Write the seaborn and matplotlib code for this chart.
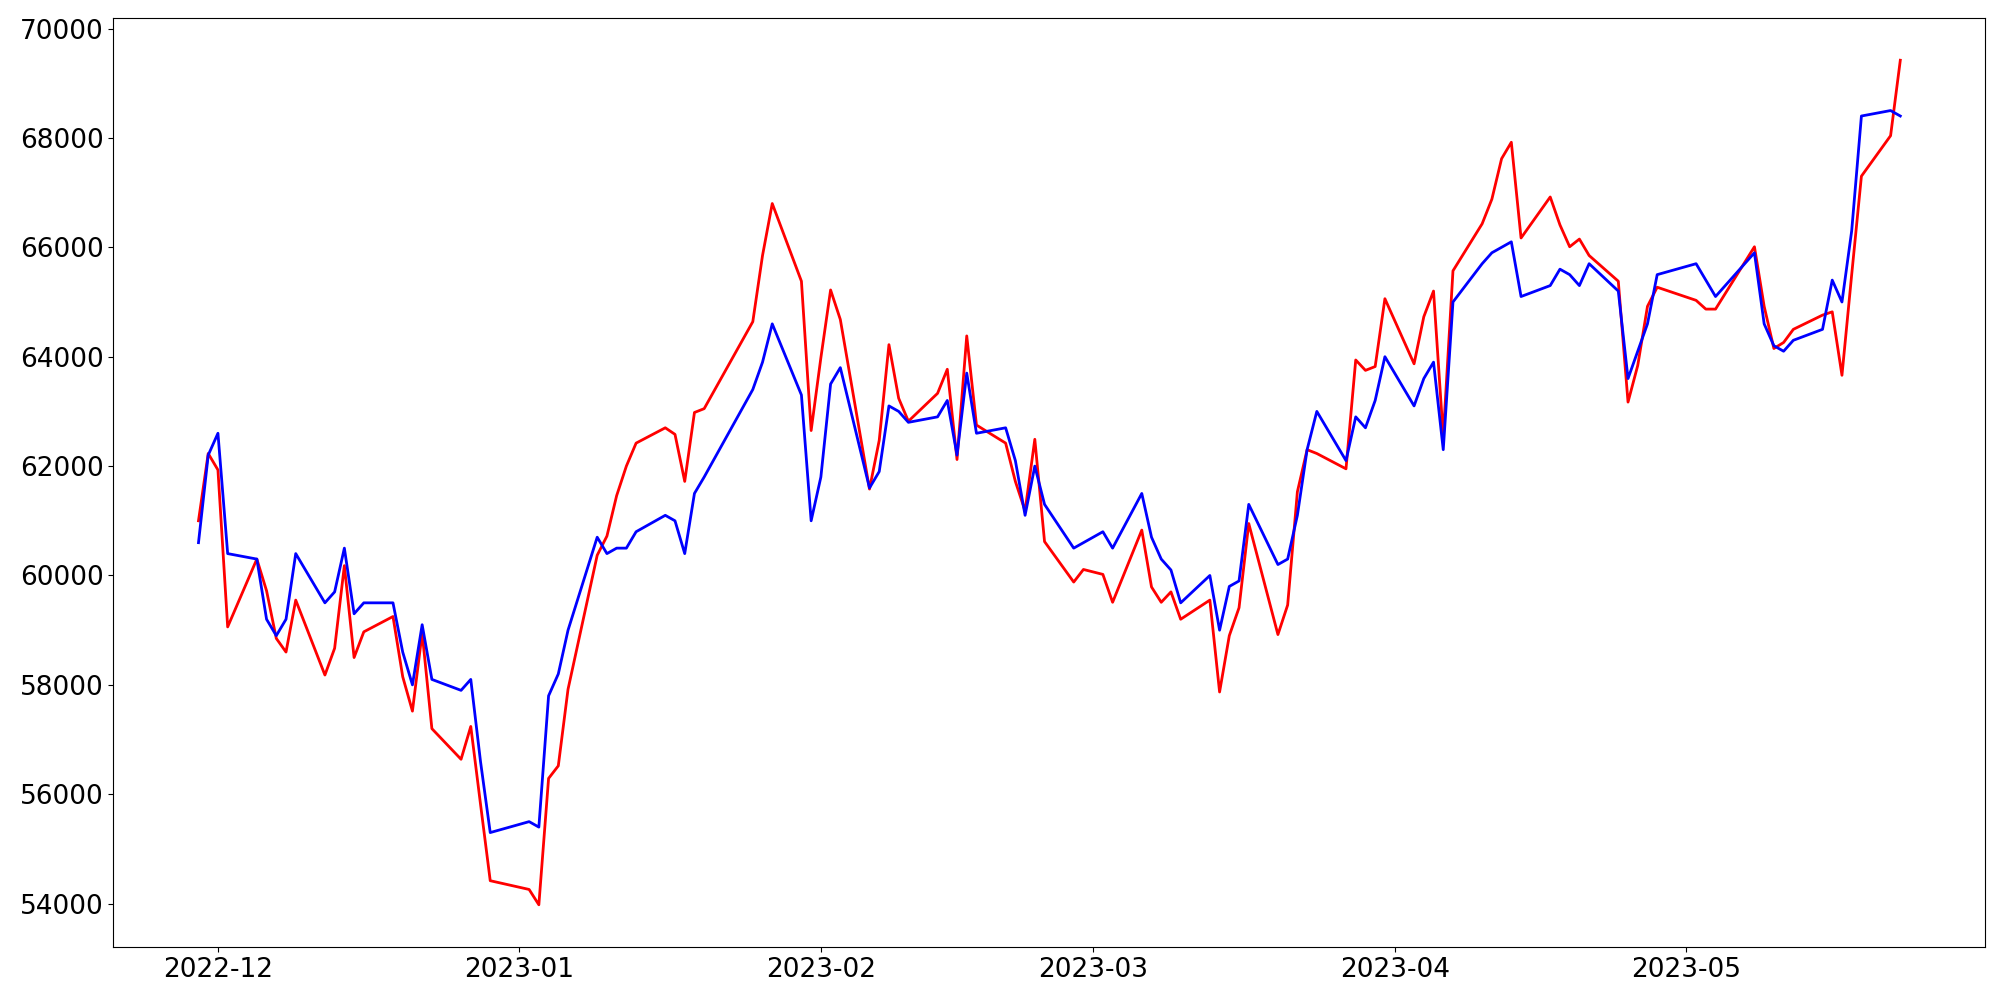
import pandas as pd
import matplotlib
matplotlib.use("Agg")
import matplotlib.pyplot as plt
import seaborn as sns

# trading days (weekends / holidays skipped)
dates = [
    "2022-11-29", "2022-11-30", "2022-12-01", "2022-12-02", "2022-12-05", "2022-12-06",
    "2022-12-07", "2022-12-08", "2022-12-09", "2022-12-12", "2022-12-13", "2022-12-14",
    "2022-12-15", "2022-12-16", "2022-12-19", "2022-12-20", "2022-12-21", "2022-12-22",
    "2022-12-23", "2022-12-26", "2022-12-27", "2022-12-28", "2022-12-29",
    "2023-01-02", "2023-01-03", "2023-01-04", "2023-01-05", "2023-01-06", "2023-01-09",
    "2023-01-10", "2023-01-11", "2023-01-12", "2023-01-13", "2023-01-16", "2023-01-17",
    "2023-01-18", "2023-01-19", "2023-01-20", "2023-01-25", "2023-01-26", "2023-01-27",
    "2023-01-30", "2023-01-31",
    "2023-02-01", "2023-02-02", "2023-02-03", "2023-02-06", "2023-02-07", "2023-02-08",
    "2023-02-09", "2023-02-10", "2023-02-13", "2023-02-14", "2023-02-15", "2023-02-16",
    "2023-02-17", "2023-02-20", "2023-02-21", "2023-02-22", "2023-02-23", "2023-02-24",
    "2023-02-27", "2023-02-28",
    "2023-03-02", "2023-03-03", "2023-03-06", "2023-03-07", "2023-03-08", "2023-03-09",
    "2023-03-10", "2023-03-13", "2023-03-14", "2023-03-15", "2023-03-16", "2023-03-17",
    "2023-03-20", "2023-03-21", "2023-03-22", "2023-03-23", "2023-03-24", "2023-03-27",
    "2023-03-28", "2023-03-29", "2023-03-30", "2023-03-31",
    "2023-04-03", "2023-04-04", "2023-04-05", "2023-04-06", "2023-04-07", "2023-04-10",
    "2023-04-11", "2023-04-12", "2023-04-13", "2023-04-14", "2023-04-17", "2023-04-18",
    "2023-04-19", "2023-04-20", "2023-04-21", "2023-04-24", "2023-04-25", "2023-04-26",
    "2023-04-27", "2023-04-28",
    "2023-05-02", "2023-05-03", "2023-05-04", "2023-05-08", "2023-05-09", "2023-05-10",
    "2023-05-11", "2023-05-12", "2023-05-15", "2023-05-16", "2023-05-17", "2023-05-18",
    "2023-05-19", "2023-05-22", "2023-05-23",
]

# red line (predicted)
predicted = [
    61000, 62230, 61930, 59060, 60300, 59720, 58850, 58600, 59550, 58180, 58670, 60180,
    58500, 58970, 59250, 58150, 57520, 58950, 57200, 56640, 57240, 55820, 54420,
    54260, 53980, 56290, 56520, 57920, 60370, 60720, 61460, 62000, 62420, 62700, 62580,
    61720, 62980, 63050, 64640, 65850, 66800, 65380, 62650,
    63980, 65220, 64680, 61580, 62470, 64220, 63240, 62820, 63330, 63770, 62120, 64380,
    62750, 62420, 61720, 61180, 62490, 60620, 59880, 60110,
    60020, 59510, 60830, 59790, 59510, 59700, 59200, 59550, 57870, 58900, 59410, 60950,
    58920, 59460, 61530, 62300, 62230, 61950, 63940, 63750, 63820, 65060,
    63870, 64730, 65200, 62540, 65570, 66430, 66880, 67620, 67920, 66170, 66920, 66410,
    66010, 66150, 65850, 65380, 63170, 63840, 64920, 65270,
    65030, 64870, 64870, 66010, 64920, 64150, 64260, 64500, 64760, 64820, 63660, 65500,
    67300, 68040, 69420,
]

# blue line (actual)
actual = [
    60600, 62200, 62600, 60400, 60300, 59200, 58900, 59200, 60400, 59500, 59700, 60500,
    59300, 59500, 59500, 58600, 58000, 59100, 58100, 57900, 58100, 56600, 55300,
    55500, 55400, 57800, 58200, 59000, 60700, 60400, 60500, 60500, 60800, 61100, 61000,
    60400, 61500, 61800, 63400, 63900, 64600, 63300, 61000,
    61800, 63500, 63800, 61600, 61900, 63100, 63000, 62800, 62900, 63200, 62200, 63700,
    62600, 62700, 62100, 61100, 62000, 61300, 60500, 60600,
    60800, 60500, 61500, 60700, 60300, 60100, 59500, 60000, 59000, 59800, 59900, 61300,
    60200, 60300, 61100, 62300, 63000, 62100, 62900, 62700, 63200, 64000,
    63100, 63600, 63900, 62300, 65000, 65700, 65900, 66000, 66100, 65100, 65300, 65600,
    65500, 65300, 65700, 65200, 63600, 64100, 64600, 65500,
    65700, 65400, 65100, 65900, 64600, 64200, 64100, 64300, 64500, 65400, 65000, 66300,
    68400, 68500, 68400,
]

df = pd.DataFrame({
    "Date": pd.to_datetime(dates),
    "Predicted": predicted,
    "Actual": actual,
})

fig = plt.figure(figsize=(20, 10), dpi=100)
ax = fig.add_axes([0.0567, 0.053, 0.936, 0.929])

sns.lineplot(data=df, x="Date", y="Predicted", color="red", linewidth=2, ax=ax)
sns.lineplot(data=df, x="Date", y="Actual", color="blue", linewidth=2, ax=ax)

ax.set_xlabel("")
ax.set_ylabel("")
ax.tick_params(labelsize=19)

fig.savefig("out.png", dpi=100)
